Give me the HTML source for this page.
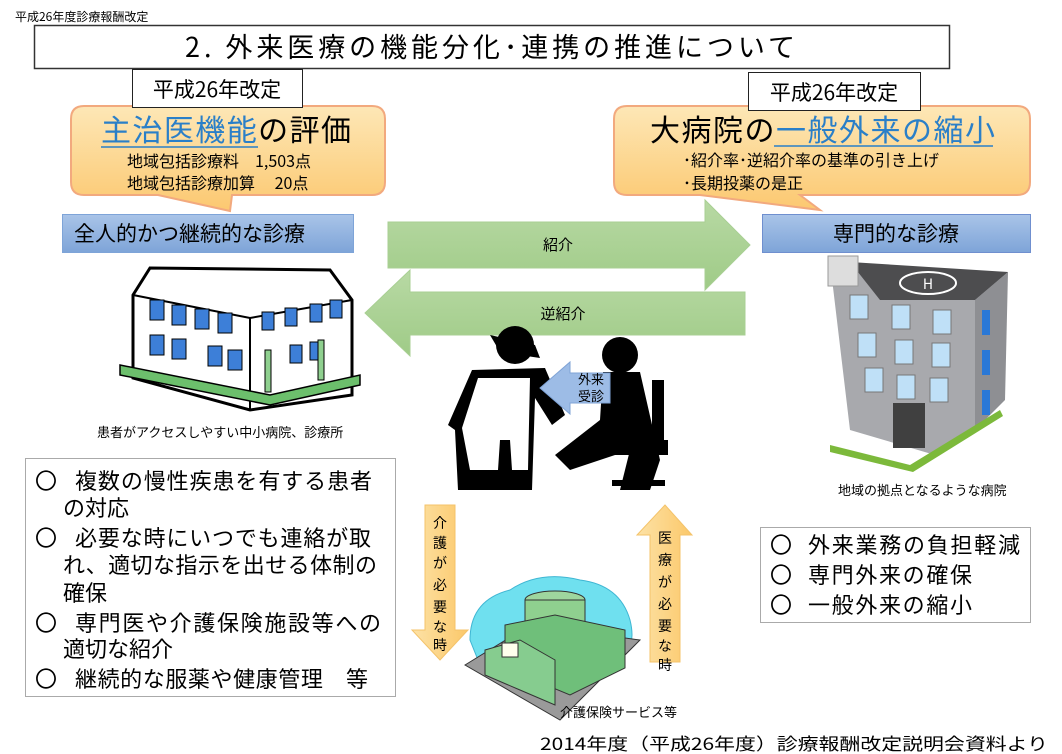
<!DOCTYPE html>
<html><head><meta charset="utf-8"><style>
html,body{margin:0;padding:0;background:#fff}
svg{display:block}
text{font-family:"Noto Sans CJK JP","Liberation Sans",sans-serif;fill:#000}
</style></head><body>
<svg width="1062" height="754" viewBox="0 0 1062 754" xmlns="http://www.w3.org/2000/svg">
<defs>
<linearGradient id="og" x1="0" y1="0" x2="0" y2="1"><stop offset="0" stop-color="#fde7b6"/><stop offset="1" stop-color="#fcc870"/></linearGradient>
<linearGradient id="bg" x1="0" y1="0" x2="0" y2="1"><stop offset="0" stop-color="#a9c4e8"/><stop offset="1" stop-color="#7ea4d8"/></linearGradient>
<linearGradient id="gg" x1="0" y1="0" x2="0" y2="1"><stop offset="0" stop-color="#b8d9a4"/><stop offset="1" stop-color="#9fcb87"/></linearGradient>
<linearGradient id="yg" x1="0" y1="0" x2="1" y2="0"><stop offset="0" stop-color="#fde2a6"/><stop offset="1" stop-color="#fbc86a"/></linearGradient>
</defs>
<text x="15" y="21" font-size="12">平成26年度診療報酬改定</text>
<rect x="34.5" y="25.5" width="915" height="43" fill="#fff" stroke="#333" stroke-width="1.5"/>
<text x="185" y="57" font-size="27" textLength="610" lengthAdjust="spacing">2. 外来医療の機能分化･連携の推進について</text>

<!-- left callout -->
<path d="M84,106 H372 Q385,106 385,119 V182 Q385,195 372,195 H232 L230,211 L158,195 H84 Q71,195 71,182 V119 Q71,106 84,106 Z" fill="url(#og)" stroke="#f2a97e" stroke-width="2"/>
<rect x="132.5" y="69.5" width="170" height="38" fill="#fff" stroke="#222"/>
<text x="217" y="97" font-size="21" text-anchor="middle">平成26年改定</text>
<text x="101" y="141" font-size="30" textLength="250" lengthAdjust="spacing"><tspan style="fill:#2a7fc8">主治医機能</tspan>の評価</text>
<line x1="101" y1="147" x2="258" y2="147" stroke="#2a7fc8" stroke-width="1.5"/>
<text x="127" y="167" font-size="16">地域包括診療料　1,503点</text>
<text x="127" y="189" font-size="16">地域包括診療加算　 20点</text>

<!-- right callout -->
<path d="M627,106 H1017 Q1030,106 1030,119 V182 Q1030,195 1017,195 H800 L820,210 L700,195 H627 Q614,195 614,182 V119 Q614,106 627,106 Z" fill="url(#og)" stroke="#f2a97e" stroke-width="2"/>
<rect x="748.5" y="72.5" width="172" height="38" fill="#fff" stroke="#222"/>
<text x="834" y="100" font-size="21" text-anchor="middle">平成26年改定</text>
<text x="650" y="141" font-size="30" textLength="345" lengthAdjust="spacing">大病院の<tspan style="fill:#2a7fc8">一般外来の縮小</tspan></text>
<line x1="774" y1="146" x2="993" y2="146" stroke="#2a7fc8" stroke-width="1.5"/>
<text x="683" y="166" font-size="16">･紹介率･逆紹介率の基準の引き上げ</text>
<text x="683" y="189" font-size="16">･長期投薬の是正</text>

<!-- blue labels -->
<rect x="62.5" y="214.5" width="291" height="38" fill="url(#bg)" stroke="#7ea4d8"/>
<text x="74" y="241" font-size="21">全人的かつ継続的な診療</text>
<rect x="762.5" y="214.5" width="268" height="38" fill="url(#bg)" stroke="#6f8fcf"/>
<text x="896" y="241" font-size="21" text-anchor="middle">専門的な診療</text>

<!-- green arrows -->
<path d="M388,222 H705 V200 L750,245 L705,290 V268 H388 Z" fill="url(#gg)" stroke="#a8cf93"/>
<text x="558" y="250" font-size="15" text-anchor="middle">紹介</text>
<path d="M745,292 H410 V270 L365,313 L410,356 V335 H745 Z" fill="url(#gg)" stroke="#a8cf93"/>
<text x="563" y="319" font-size="15" text-anchor="middle">逆紹介</text>

<!-- left clinic building -->
<g>
<path d="M133,295 L150,268 L330,270 L352,300 L352,395 L250,410 L133,378 Z" fill="#fff" stroke="#000" stroke-width="3"/>
<path d="M133,295 L250,318 L352,300" fill="none" stroke="#000" stroke-width="2"/>
<path d="M250,318 V410" stroke="#000" stroke-width="2"/>
<path d="M120,365 L270,395 L360,375 L360,385 L270,405 L120,375 Z" fill="#6cbf6c" stroke="#000" stroke-width="1.5"/>
<g fill="#3d7fd8" stroke="#000" stroke-width="1">
<rect x="150" y="300" width="14" height="20"/><rect x="172" y="305" width="14" height="20"/><rect x="195" y="309" width="14" height="20"/><rect x="218" y="313" width="14" height="20"/>
<rect x="150" y="335" width="14" height="20"/><rect x="172" y="339" width="14" height="20"/><rect x="208" y="346" width="14" height="20"/><rect x="228" y="350" width="14" height="20"/>
<rect x="262" y="312" width="12" height="18"/><rect x="285" y="308" width="12" height="18"/><rect x="310" y="304" width="12" height="18"/><rect x="330" y="300" width="12" height="18"/>
<rect x="290" y="345" width="12" height="18"/><rect x="310" y="342" width="12" height="18"/>
</g>
<rect x="318" y="340" width="6" height="40" fill="#8fd08f" stroke="#000"/>
<rect x="265" y="350" width="6" height="42" fill="#8fd08f" stroke="#000"/>
</g>
<text x="97" y="437" font-size="13">患者がアクセスしやすい中小病院、診療所</text>

<!-- doctor & patient silhouettes -->
<g fill="#000">
<circle cx="515" cy="345" r="19"/>
<path d="M490,335 L535,345 L540,358 L500,352 Z"/>
<path d="M472,370 L545,368 L565,415 L552,425 L535,398 L532,490 L458,490 L455,430 L448,425 Z"/>
<path d="M478,378 L530,378 L528,470 L512,470 L510,440 L500,440 L498,470 L470,470 L462,428 Z" fill="#fff"/>
<circle cx="620" cy="355" r="18"/>
<path d="M603,372 L640,372 L660,460 L650,490 L620,490 L630,450 L570,470 L555,455 L600,420 Z"/>
<path d="M612,440 H668 V455 H645 V480 H665 V486 H612 V480 H635 V455 H612 Z"/>
<rect x="652" y="380" width="12" height="75"/>
</g>
<path d="M610,373 H570 V362 L540,388 L570,414 V403 H610 Z" fill="#9dbce6" stroke="#7fa3d6"/>
<text x="578" y="384" font-size="13">外来</text>
<text x="578" y="401" font-size="13">受診</text>

<!-- hospital -->
<g>
<path d="M830,262 L880,270 L1008,272 L978,300 L975,430 L935,455 L850,430 Z" fill="#a8a9ad"/>
<path d="M850,262 L1008,272 L975,300 L880,300 Z" fill="#4d4d4f"/>
<ellipse cx="928" cy="283" rx="28" ry="11" fill="none" stroke="#fff" stroke-width="2"/>
<text x="928" y="289" font-size="14" text-anchor="middle" style="fill:#fff">H</text>
<rect x="828" y="256" width="30" height="30" fill="#ddd" stroke="#999"/>
<path d="M975,300 L1008,272 L1005,400 L975,430 Z" fill="#8e8f93"/>
<g fill="#bfe0f7" stroke="#777">
<rect x="850" y="295" width="18" height="24"/><rect x="892" y="305" width="18" height="24"/><rect x="933" y="310" width="18" height="24"/>
<rect x="858" y="333" width="18" height="24"/><rect x="895" y="340" width="18" height="24"/><rect x="932" y="343" width="18" height="24"/>
<rect x="865" y="368" width="18" height="24"/><rect x="897" y="375" width="18" height="24"/><rect x="930" y="378" width="18" height="24"/>
</g>
<g fill="#2a78d6"><rect x="982" y="310" width="8" height="25"/><rect x="982" y="350" width="8" height="25"/><rect x="982" y="390" width="8" height="25"/></g>
<path d="M830,445 L910,465 L1000,410 L1003,416 L913,472 L830,452 Z" fill="#7cb93b"/>
<rect x="893" y="403" width="32" height="45" fill="#404040"/>
</g>
<text x="838" y="495" font-size="13">地域の拠点となるような病院</text>

<!-- left list -->
<rect x="25.5" y="458.5" width="370" height="238" fill="#fff" stroke="#aaa"/>
<g font-size="22">
<text x="35" y="489">〇</text><text x="75" y="489" textLength="297" lengthAdjust="spacing">複数の慢性疾患を有する患者</text>
<text x="63" y="516">の対応</text>
<text x="35" y="546">〇</text><text x="75" y="546" textLength="296" lengthAdjust="spacing">必要な時にいつでも連絡が取</text>
<text x="63" y="573" textLength="314" lengthAdjust="spacing">れ、適切な指示を出せる体制の</text>
<text x="63" y="601">確保</text>
<text x="35" y="631">〇</text><text x="75" y="631" textLength="306" lengthAdjust="spacing">専門医や介護保険施設等への</text>
<text x="63" y="657">適切な紹介</text>
<text x="35" y="687">〇</text><text x="75" y="687" textLength="293" lengthAdjust="spacing">継続的な服薬や健康管理　等</text>
</g>

<!-- right list -->
<rect x="760.5" y="527.5" width="270" height="95" fill="#fff" stroke="#aaa"/>
<g font-size="22">
<text x="770" y="553">〇</text><text x="808" y="553" textLength="212" lengthAdjust="spacing">外来業務の負担軽減</text>
<text x="770" y="583">〇</text><text x="808" y="583" textLength="164" lengthAdjust="spacing">専門外来の確保</text>
<text x="770" y="613">〇</text><text x="808" y="613" textLength="164" lengthAdjust="spacing">一般外来の縮小</text>
</g>

<!-- orange vertical arrows -->
<path d="M425,505 H455 V630 H468 L440,660 L412,630 H425 Z" fill="url(#yg)" stroke="#f4c36a"/>
<g font-size="14" text-anchor="middle">
<text x="440" y="528">介</text><text x="440" y="548">護</text><text x="440" y="568">が</text><text x="440" y="590">必</text><text x="440" y="612">要</text><text x="440" y="632">な</text><text x="440" y="650">時</text>
</g>
<path d="M650,662 H680 V535 H692 L665,505 L637,535 H650 Z" fill="url(#yg)" stroke="#f4c36a"/>
<g font-size="14" text-anchor="middle">
<text x="665" y="543">医</text><text x="665" y="565">療</text><text x="665" y="587">が</text><text x="665" y="609">必</text><text x="665" y="631">要</text><text x="665" y="651">な</text><text x="665" y="670">時</text>
</g>

<!-- care facility -->
<g>
<path d="M470,640 Q470,600 510,590 Q540,570 580,580 Q620,585 630,620 Q640,660 600,665 L480,665 Z" fill="#6fe0ef" stroke="#3fb6d3"/>
<path d="M465,665 L530,625 L640,640 L560,720 Z" fill="#9a9a9a" stroke="#333"/>
<ellipse cx="555" cy="600" rx="30" ry="9" fill="#9ed69e" stroke="#333"/>
<rect x="525" y="600" width="60" height="22" fill="#8fd08f" stroke="#333"/>
<path d="M505,625 L555,615 L625,630 L625,668 L570,695 L505,668 Z" fill="#6fbf7a" stroke="#333"/>
<path d="M485,650 L520,640 L555,660 L555,705 L520,690 L485,675 Z" fill="#86cc8f" stroke="#333"/>
<rect x="502" y="643" width="16" height="14" fill="#ffe" stroke="#333"/>
</g>
<text x="560" y="717" font-size="13">介護保険サービス等</text>

<text x="540" y="750" font-size="17" textLength="508" lengthAdjust="spacingAndGlyphs">2014年度（平成26年度）診療報酬改定説明会資料より</text>
</svg>
</body></html>
